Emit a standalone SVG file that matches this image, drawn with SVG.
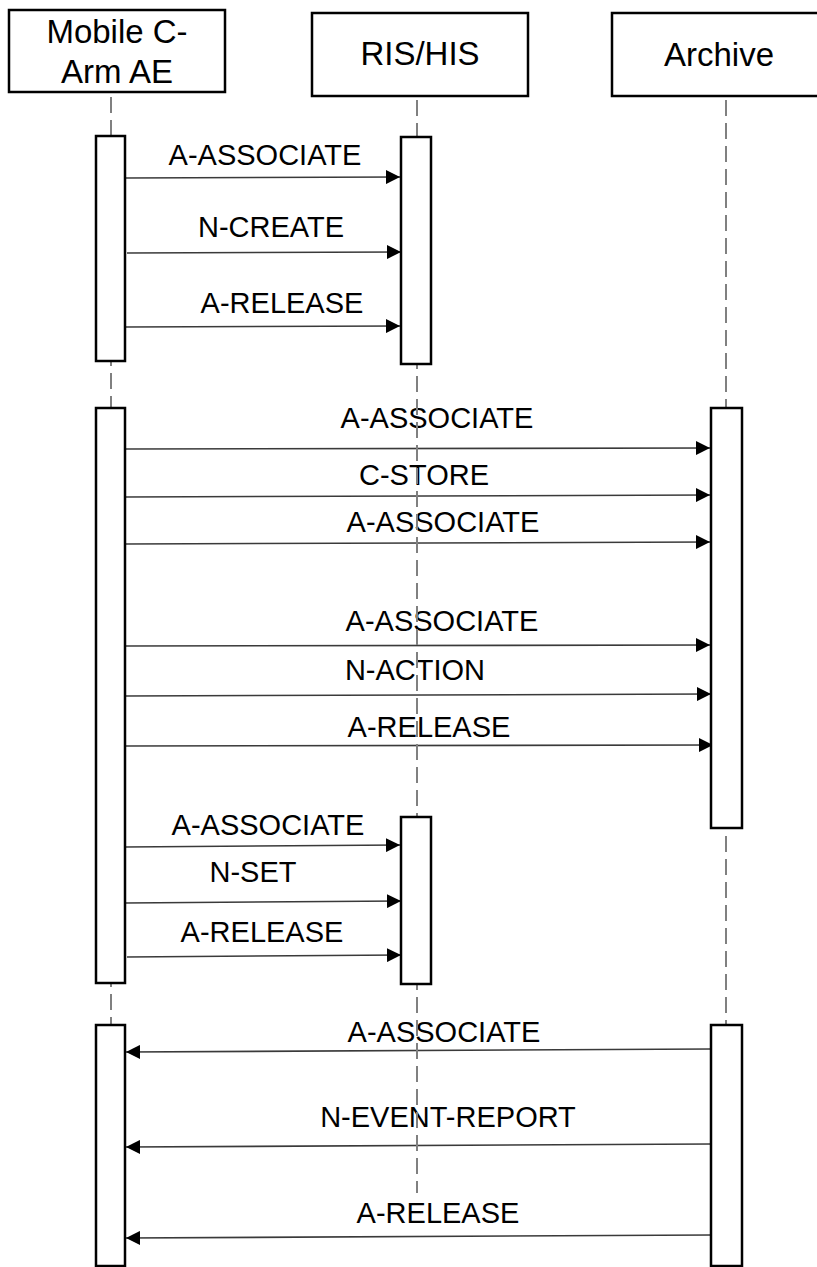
<svg xmlns="http://www.w3.org/2000/svg" width="817" height="1267" viewBox="0 0 817 1267">
<style>
.hdr{fill:#fff;stroke:#000;stroke-width:2.5}
.act{fill:#fff;stroke:#000;stroke-width:2.5}
.life{stroke:#808080;stroke-width:2;stroke-dasharray:16 7;fill:none}
.msg{stroke:#3a3a3a;stroke-width:1.6;fill:none;marker-end:url(#ah)}
.ht{font-family:"Liberation Sans",Arial,sans-serif;font-size:33px;fill:#000;text-anchor:middle}
.lt{font-family:"Liberation Sans",Arial,sans-serif;font-size:29px;fill:#000;text-anchor:middle}
</style>
<defs>
<marker id="ah" viewBox="0 0 14 14" refX="14" refY="7" markerWidth="14" markerHeight="14" orient="auto" markerUnits="userSpaceOnUse">
<path d="M0,0 L14,7 L0,14 z" fill="#000"/>
</marker>
</defs>
<rect width="817" height="1267" fill="#fff"/>

<g id="connectors">
<line class="msg" x1="125" y1="178" x2="400" y2="177"/>
<text class="lt" x="265" y="165">A-ASSOCIATE</text>
<line class="msg" x1="127" y1="253" x2="401" y2="252"/>
<text class="lt" x="271" y="237">N-CREATE</text>
<line class="msg" x1="125" y1="327" x2="400" y2="326"/>
<text class="lt" x="282" y="313">A-RELEASE</text>

<line class="msg" x1="125" y1="449" x2="710" y2="448"/>
<text class="lt" x="437" y="428">A-ASSOCIATE</text>
<line class="msg" x1="125" y1="497" x2="710" y2="495"/>
<text class="lt" x="424" y="485">C-STORE</text>
<line class="msg" x1="125" y1="544" x2="710" y2="542"/>
<text class="lt" x="443" y="532">A-ASSOCIATE</text>
<line class="msg" x1="125" y1="646" x2="710" y2="645"/>
<text class="lt" x="442" y="631">A-ASSOCIATE</text>
<line class="msg" x1="125" y1="696" x2="711" y2="694"/>
<text class="lt" x="415" y="680">N-ACTION</text>
<line class="msg" x1="125" y1="746" x2="713" y2="745"/>
<text class="lt" x="429" y="737">A-RELEASE</text>

<line class="msg" x1="125" y1="847" x2="400" y2="845"/>
<text class="lt" x="268" y="835">A-ASSOCIATE</text>
<line class="msg" x1="125" y1="903" x2="401" y2="901"/>
<text class="lt" x="253" y="882">N-SET</text>
<line class="msg" x1="127" y1="957" x2="401" y2="955"/>
<text class="lt" x="262" y="942">A-RELEASE</text>

<line class="msg" x1="711" y1="1049" x2="126" y2="1052"/>
<text class="lt" x="444" y="1042">A-ASSOCIATE</text>
<line class="msg" x1="711" y1="1144" x2="126" y2="1147"/>
<text class="lt" x="448" y="1127">N-EVENT-REPORT</text>
<line class="msg" x1="711" y1="1235" x2="126" y2="1238"/>
<text class="lt" x="438" y="1223">A-RELEASE</text>
</g>

<g id="mobile">
<rect class="hdr" x="9" y="10" width="216" height="82"/>
<text class="ht" x="117" y="43">Mobile C-</text>
<text class="ht" x="117" y="83">Arm AE</text>
<line class="life" x1="111" y1="97" x2="111" y2="1025"/>
<rect class="act" x="96" y="136" width="29" height="225"/>
<rect class="act" x="96" y="408" width="29" height="575"/>
<rect class="act" x="96" y="1025" width="29" height="241"/>
</g>

<g id="rishis">
<rect class="hdr" x="312" y="13" width="216" height="83"/>
<text class="ht" x="420" y="65">RIS/HIS</text>
<line class="life" x1="417" y1="100" x2="417" y2="1193"/>
<rect class="act" x="401" y="137" width="30" height="227"/>
<rect class="act" x="401" y="817" width="30" height="167"/>
</g>

<g id="archive">
<rect class="hdr" x="612" y="13" width="216" height="83"/>
<text class="ht" x="719" y="66">Archive</text>
<line class="life" x1="726" y1="100" x2="726" y2="1025"/>
<rect class="act" x="711" y="408" width="31" height="420"/>
<rect class="act" x="711" y="1025" width="31" height="241"/>
</g>
</svg>
